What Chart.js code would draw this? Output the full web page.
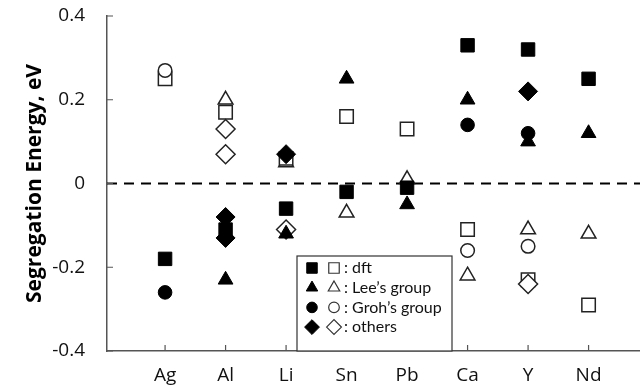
<!DOCTYPE html>
<html>
<head>
<meta charset="utf-8">
<script src="https://cdn.jsdelivr.net/npm/chart.js@4.4.1/dist/chart.umd.min.js"></script>
<style>
  html, body { margin: 0; padding: 0; background: #fff; }
  #wrap { width: 640px; height: 385px; }
</style>
</head>
<body>
<div id="wrap"><canvas id="chart" width="640" height="385"></canvas></div>
<script>
// categories (solute elements)
const elements = ['Ag', 'Al', 'Li', 'Sn', 'Pb', 'Ca', 'Y', 'Nd'];
const yTickValues = [-0.4, -0.2, 0, 0.2, 0.4];

// segregation energies, eV (null = no point, array = several points)
const dftFilled    = [-0.18, -0.11, -0.06, -0.02, -0.01, 0.33, 0.32, 0.25];
const dftOpen      = [0.25, 0.17, 0.06, 0.16, 0.13, -0.11, -0.23, -0.29];
const leeFilled    = [null, -0.23, -0.12, 0.25, -0.05, 0.20, 0.10, 0.12];
const leeOpen      = [null, 0.20, 0.05, -0.07, 0.01, -0.22, -0.11, -0.12];
const grohFilled   = [-0.26, null, null, null, null, 0.14, 0.12, null];
const grohOpen     = [0.27, null, null, null, null, -0.16, -0.15, null];
const othersFilled = [null, [-0.08, -0.13], 0.07, null, null, null, 0.22, null];
const othersOpen   = [null, [0.13, 0.07], -0.11, null, null, null, -0.24, null];

const legendLabels = [': dft', ': Lee\u2019s group', ': Groh\u2019s group', ': others'];

const AXIS_FONT = '"Open Sans", sans-serif';
const LEGEND_FONT = 'Lato, "Open Sans", sans-serif';
const X_MIN = 0.04, X_MAX = 8.85;

function toPoints(vals) {
  const pts = [];
  vals.forEach((v, i) => {
    if (v == null) return;
    [].concat(v).forEach(y => pts.push({ x: i + 1, y: y }));
  });
  return pts;
}

const shapes = [
  { style: 'rect', radius: 9.5 },
  { style: 'triangle', radius: 8.5 },
  { style: 'circle', radius: 6.8 },
  { style: 'rectRot', radius: 9.5 }
];

function markerSet(vals, shape, filled, order) {
  return {
    type: 'scatter',
    data: toPoints(vals),
    pointStyle: shape.style,
    pointRadius: shape.radius,
    pointHoverRadius: shape.radius,
    backgroundColor: filled ? '#000' : '#fff',
    borderColor: filled ? '#000' : '#222',
    borderWidth: filled ? 1 : 1.5,
    order: order
  };
}

const zeroLine = {
  type: 'line',
  data: [{ x: X_MIN, y: 0 }, { x: X_MAX, y: 0 }],
  borderColor: '#000',
  borderWidth: 2,
  borderDash: [10, 7],
  pointRadius: 0,
  fill: false,
  order: 20
};

// inward tick marks like the original
const insideTicks = {
  id: 'insideTicks',
  afterDraw(chart) {
    const { ctx, chartArea, scales } = chart;
    ctx.save();
    ctx.strokeStyle = '#555';
    ctx.lineWidth = 1.2;
    ctx.beginPath();
    scales.x.ticks.forEach(t => {
      const px = scales.x.getPixelForValue(t.value);
      ctx.moveTo(px, chartArea.bottom);
      ctx.lineTo(px, chartArea.bottom - 6);
    });
    scales.y.ticks.forEach(t => {
      const py = scales.y.getPixelForValue(t.value);
      ctx.moveTo(chartArea.left, py);
      ctx.lineTo(chartArea.left + 6, py);
    });
    ctx.stroke();
    ctx.restore();
  }
};

// boxed legend with filled + open marker per row
const boxLegend = {
  id: 'boxLegend',
  afterDraw(chart) {
    const { ctx, chartArea } = chart;
    const left = chartArea.left + 190;
    const w = 155, h = 95;
    const top = chartArea.bottom - h;
    ctx.save();
    ctx.fillStyle = '#fff';
    ctx.fillRect(left, top, w, h);
    ctx.strokeStyle = '#333';
    ctx.lineWidth = 1.2;
    ctx.strokeRect(left, top, w, h);
    ctx.font = '16px ' + LEGEND_FONT;
    ctx.textBaseline = 'middle';
    legendLabels.forEach((label, i) => {
      const y = top + 12 + i * 19.7;
      const sh = shapes[i];
      const r = sh.radius * 0.78;
      ctx.fillStyle = '#000';
      ctx.strokeStyle = '#000';
      ctx.lineWidth = 1;
      Chart.helpers.drawPoint(ctx, { pointStyle: sh.style, radius: r, borderWidth: 1 }, left + 15, y);
      ctx.fillStyle = '#fff';
      ctx.strokeStyle = '#333';
      ctx.lineWidth = 1.2;
      Chart.helpers.drawPoint(ctx, { pointStyle: sh.style, radius: r, borderWidth: 1.2 }, left + 37, y);
      ctx.fillStyle = '#111';
      ctx.fillText(label, left + 47, y);
    });
    ctx.restore();
  }
};

new Chart(document.getElementById('chart'), {
  data: {
    datasets: [
      markerSet(othersFilled, shapes[3], true, 1),
      markerSet(dftFilled, shapes[0], true, 2),
      markerSet(leeFilled, shapes[1], true, 3),
      markerSet(grohFilled, shapes[2], true, 4),
      markerSet(grohOpen, shapes[2], false, 5),
      markerSet(othersOpen, shapes[3], false, 6),
      markerSet(dftOpen, shapes[0], false, 7),
      markerSet(leeOpen, shapes[1], false, 8),
      zeroLine
    ]
  },
  options: {
    responsive: false,
    animation: false,
    layout: { autoPadding: false, padding: { top: 4, right: 0, bottom: 0, left: 4 } },
    plugins: {
      legend: { display: false },
      tooltip: { enabled: false }
    },
    scales: {
      x: {
        type: 'linear',
        min: X_MIN,
        max: X_MAX,
        afterBuildTicks: axis => {
          axis.ticks = elements.map((_, i) => ({ value: i + 1 }));
        },
        afterFit: axis => { axis.height = 34; },
        ticks: {
          callback: v => elements[v - 1] || '',
          color: '#111',
          font: { family: AXIS_FONT, size: 19 },
          padding: 13,
          autoSkip: false,
          maxRotation: 0
        },
        grid: { display: false, drawTicks: false },
        border: { color: '#555', width: 1.5 }
      },
      y: {
        min: -0.4,
        max: 0.4,
        afterBuildTicks: axis => {
          axis.ticks = yTickValues.map(v => ({ value: v }));
        },
        afterFit: axis => {
          axis.width = 103;
          axis.paddingTop = 16;
          axis.paddingBottom = 12;
        },
        ticks: {
          callback: v => String(Math.round(v * 10) / 10),
          color: '#111',
          font: { family: AXIS_FONT, size: 19 },
          padding: 22
        },
        grid: { display: false, drawTicks: false },
        border: { color: '#555', width: 1.5 },
        title: {
          display: true,
          text: 'Segregation Energy, eV',
          color: '#000',
          font: { family: AXIS_FONT, size: 21, weight: 'bold' },
          padding: { top: 18, bottom: 0 }
        }
      }
    }
  },
  plugins: [insideTicks, boxLegend]
});
</script>
</body>
</html>
